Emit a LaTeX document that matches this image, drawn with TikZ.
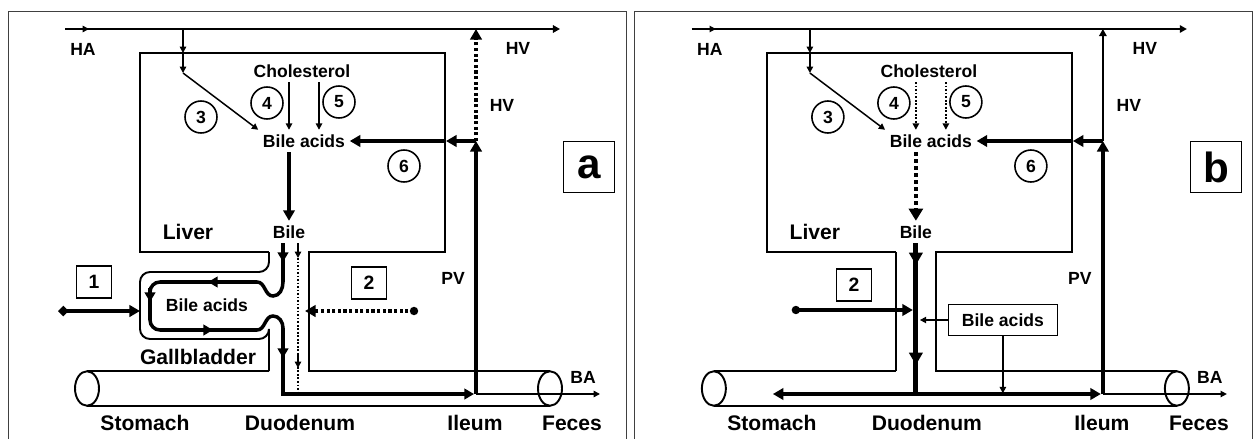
\documentclass[tikz,border=0pt]{standalone}
\usepackage{fontspec}
\setmainfont{Liberation Sans}
\usetikzlibrary{
positioning,
arrows.meta
}
\tikzset{
lbl/.style={font=\bfseries\fontsize{10}{12}\selectfont, inner sep=2.5pt},
biglbl/.style={font=\bfseries\fontsize{12}{14}\selectfont, inner sep=1pt},
num/.style={draw, circle, line width=0.9pt, minimum size=0.64cm, inner sep=0pt, font=\bfseries\fontsize{10}{12}\selectfont},
numbox/.style={draw, line width=0.9pt, minimum width=0.7cm, minimum height=0.64cm, inner sep=0pt, font=\bfseries\fontsize{11}{13}\selectfont},
panelbox/.style={draw, line width=0.9pt, minimum size=1.02cm, inner sep=0pt, font=\bfseries\fontsize{24}{26}\selectfont},
babox/.style={draw, line width=0.9pt, minimum width=2.18cm, minimum height=0.62cm, inner sep=0pt, font=\bfseries\fontsize{10}{12}\selectfont},
frame/.style={draw=black!75, line width=0.5pt},
wall/.style={line width=1.1pt},
thinarrow/.style={-{Triangle[length=3.6pt,width=3.6pt]}, line width=0.85pt},
medarrow/.style={-{Triangle[length=4pt,width=4.2pt]}, line width=1.2pt},
arrow/.style={-{Triangle[length=6pt,width=6.5pt]}, line width=2.2pt},
bigarrow/.style={-{Triangle[length=7pt,width=7.5pt]}, line width=2.8pt},
dotarrow/.style={-{Triangle[length=6pt,width=6.5pt]}, line width=1.8pt, dash pattern=on 1.8pt off 1.4pt},
dasharrow/.style={-{Triangle[length=7pt,width=8pt]}, line width=2.4pt, dash pattern=on 2.3pt off 1.7pt},
dotline/.style={line width=0.85pt, dash pattern=on 1pt off 1pt},
thindot/.style={thinarrow, dash pattern=on 1pt off 1pt},
loopline/.style={line width=2pt},
looparrow/.style={-{Triangle[length=5.5pt,width=6pt]}, line width=2pt}
}

\begin{document}
\begin{tikzpicture}[x=0.02cm, y=-0.02cm]
\useasboundingbox (0,0) rectangle (1253,439);

% what both panels share
\foreach \p/\dx in {a/0, b/12.54}{
\begin{scope}[xshift=\dx cm]
\draw[frame] (8,11) rectangle (626,470);
\coordinate (\p-hain) at (65,29);
\coordinate (\p-haout) at (560,29);
\coordinate (\p-br) at (183,29);
\coordinate (\p-brb) at (183,73);
\coordinate (\p-pvt) at (476,29);
\coordinate (\p-pvm) at (476,141);
\coordinate (\p-pvb) at (476,394);
\coordinate (\p-wall6) at (446,141);
\coordinate (\p-out) at (600,394);
\coordinate (\p-r5) at (319,0);

\node[lbl] (\p-ha) at (83,49) {HA};
\node[lbl] (\p-hv) at (518,48) {HV};
\node[lbl] (\p-hv2) at (502,105) {HV};
\node[lbl] (\p-chol) at (302,71) {Cholesterol};
\node[lbl] (\p-ba) at (304,141) {Bile acids};
\node[lbl] (\p-bile) at (289,232) {Bile};
\node[lbl] (\p-pv) at (453,278) {PV};
\node[lbl] (\p-bax) at (583,377) {BA};
\node[biglbl] (\p-liver) at (188,232) {Liver};
\node[biglbl] (\p-stom) at (145,423) {Stomach};
\node[biglbl] (\p-duo) at (300,423) {Duodenum};
\node[biglbl] (\p-ile) at (475,423) {Ileum};
\node[biglbl] (\p-fec) at (572,423) {Feces};
\node[num] (\p-c3) at (201,117) {3};
\node[num] (\p-c4) at (267,103) {4};
\node[num] (\p-c5) at (339,102) {5};
\node[num] (\p-c6) at (404,166) {6};

% hepatic artery
\draw[thinarrow] (\p-hain) -- ++(24,0);
\draw[medarrow] (\p-hain) -- (\p-haout);
\draw[thinarrow] (\p-br) -- (183,53);
\draw[thinarrow] (183,53) -- (\p-brb);
\draw[thinarrow] (\p-brb) -- (\p-ba.north west);

% liver and gut
\draw[wall] (269,252) -- (140,252) -- (140,53) -- (445,53) -- (445,252) -- (309,252) -- (309,371) -- (550,371);
\draw[wall] (87,371) -- (269,371);
\draw[wall] (87,406) -- (550,406);
\draw[wall] (87,388.5) ellipse [x radius=0.24cm, y radius=0.345cm];
\draw[wall] (550,388.5) ellipse [x radius=0.24cm, y radius=0.345cm];

% portal vein and uptake
\draw[arrow] (\p-pvb) -- (\p-pvm);
\draw[arrow] (\p-pvm) -- (\p-wall6);
\draw[arrow] (\p-wall6) -- (\p-ba.east);
\draw[thinarrow] (\p-pvb) -- (\p-out);
\node[panelbox] (\p-tag) at (589,167) {\p};
\end{scope}
}

% panel a
\draw[thinarrow] (a-chol.south -| a-bile) -- (a-ba.north -| a-bile);
\draw[thinarrow] (a-chol.south -| a-r5) -- (a-ba.north -| a-r5);
\draw[arrow] (a-ba.south -| a-bile) -- (a-bile);
\draw[dotarrow] (a-pvm) -- (a-pvt);

\draw[wall] (269,252) -- (269,262) to[out=-90,in=0] (259,272) -- (150,272) to[out=180,in=90] (140,282) -- (140,329) to[out=-90,in=180] (150,339) -- (259,339) to[out=0,in=-90] (269,329) -- (269,371);
\draw[loopline] (283,243) -- (283,282) to[out=-90,in=0] (273,296) to[out=180,in=0] (257,282) -- (160,282) to[out=180,in=90] (150,292) -- (150,320) to[out=-90,in=180] (160,330) -- (257,330) to[out=0,in=180] (273,316) to[out=0,in=90] (283,328) -- (283,394) -- (460,394);
\draw[looparrow] (283,248) -- (283,262);
\draw[looparrow] (225,282) -- (208,282);
\draw[looparrow] (150,288) -- (150,302);
\draw[looparrow] (195,330) -- (213,330);
\draw[looparrow] (283,342) -- (283,358);
\draw[looparrow] (455,394) -- (474,394);
\node[lbl] (a-gba) at (207,305) {Bile acids};
\node[biglbl] (a-gb) at (198,357) {Gallbladder};

\draw[thinarrow] (298,243) -- (298,258);
\draw[dotline] (298,258) -- (298,392);
\draw[thinarrow] (298,354) -- (298,368);

\node[numbox] (a-n1) at (94,282) {1};
\coordinate (a-src1) at (58,311);
\draw[arrow, {Diamond[length=6pt,width=6pt]}-{Triangle[length=6pt,width=6.5pt]}] (a-src1) -- (140,311);

\node[numbox] (a-n2) at (369,283) {2};
\coordinate (a-src2) at (414,311);
\fill (a-src2) circle (2.4pt);
\draw[dotarrow] (a-src2) -- (305,311);

% panel b
\begin{scope}[xshift=12.54cm]
\draw[thindot] (b-chol.south -| b-bile) -- (b-ba.north -| b-bile);
\draw[thindot] (b-chol.south -| b-r5) -- (b-ba.north -| b-r5);
\draw[dasharrow] (b-ba.south -| b-bile) -- (b-bile);
\draw[medarrow] (b-pvm) -- (b-pvt);

\draw[wall] (269,252) -- (269,371);
\draw[line width=2.8pt] (b-bile.south) -- (289,394);
\draw[bigarrow] (289,250) -- (289,265);
\draw[bigarrow] (289,350) -- (289,365);
\draw[arrow] (289,394) -- (146,394);
\draw[arrow] (289,394) -- (474,394);

\node[numbox] (b-n2) at (227,285) {2};
\coordinate (b-src2) at (169,310);
\fill (b-src2) circle (2.4pt);
\draw[arrow] (b-src2) -- (286,310);

\node[babox] (b-bab) at (376,320) {Bile acids};
\draw[thinarrow] (b-bab.west) -- (293,320);
\draw[thinarrow] (b-bab.south) -- ++(0,57);
\end{scope}
\end{tikzpicture}
\end{document}
